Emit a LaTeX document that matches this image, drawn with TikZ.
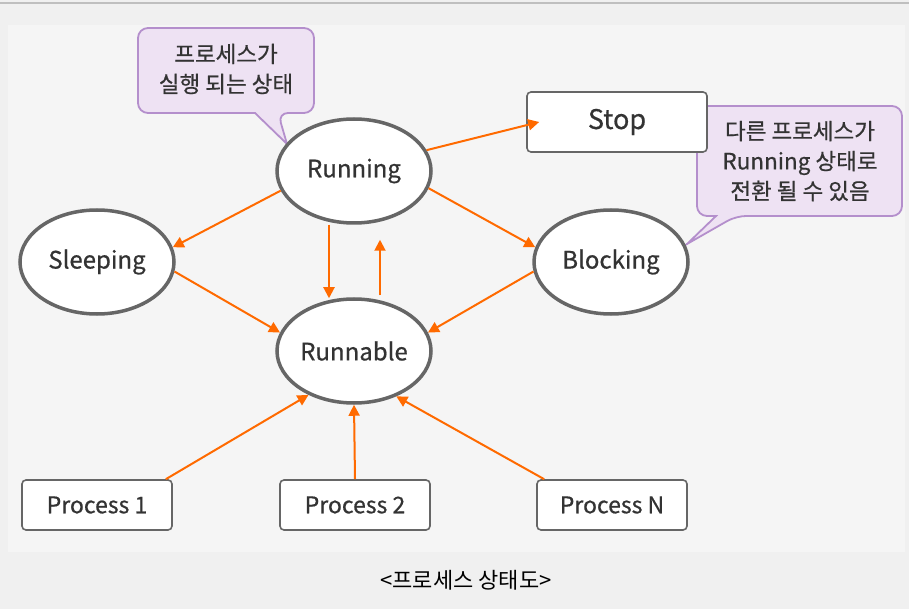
\documentclass[tikz,border=0pt]{standalone}
\usepackage{fontspec}
\setmainfont{Noto Sans CJK KR}[FakeBold=0.6]
\newfontfamily\capfont{Noto Sans CJK KR}
\usetikzlibrary{shapes.geometric,arrows.meta,calc}
\definecolor{arr}{RGB}{255,106,0}
\definecolor{ebd}{RGB}{102,102,102}
\definecolor{txt}{RGB}{51,51,51}
\definecolor{cfill}{RGB}{238,226,243}
\definecolor{cbd}{RGB}{180,143,204}
\tikzset{
  st/.style={ellipse,draw=ebd,line width=3.5pt,fill=white,minimum width=154pt,minimum height=104pt,inner sep=0pt,text=txt,font=\fontsize{24}{26}\selectfont},
  pbox/.style={rectangle,rounded corners=4pt,draw=ebd,line width=1.6pt,fill=white,minimum width=150pt,minimum height=50pt,inner sep=0pt,text=txt,font=\fontsize{23}{26}\selectfont},
  ar/.style={draw=arr,line width=2pt,-{Triangle[length=11pt,width=11pt]}},
  callout/.style={draw=cbd,line width=1.8pt,fill=cfill},
  ctext/.style={text=txt,align=center,font=\fontsize{22.5}{30}\selectfont,inner sep=0pt}
}
\begin{document}
\begin{tikzpicture}[x=1pt,y=-1pt]
\useasboundingbox (0,0) rectangle (909,609);
\fill[black!6] (0,0) rectangle (909,609);
\fill[black!4] (8,25) rectangle (905,552);
\draw[black!25,line width=2pt] (0,3) -- (909,3);
% callout 1
\draw[callout] (255,113) [rounded corners=10pt] -- (138,113) -- (138,28) -- (314,28) -- (314,113) -- (278,113) [sharp corners] -- (287,144) -- cycle;
\node[ctext] (c1) at (226,69) {프로세스가\\실행 되는 상태};
% callout 2
\draw[callout] (716,216) [rounded corners=10pt] -- (697,216) -- (697,106) -- (902,106) -- (902,216) -- (736,216) [sharp corners] -- (687,244) -- cycle;
\node[ctext] (c2) at (800,161) {다른 프로세스가\\Running 상태로\\전환 될 수 있음};
% nodes
\node[st] (run) at (354,171) {Running};
\node[st] (slp) at (97,262) {Sleeping};
\node[st] (blk) at (611,262) {Blocking};
\node[st] (rnb) at (354,351) {Runnable};
\node[pbox,minimum width=180pt,minimum height=60pt,font=\fontsize{27}{30}\selectfont] (stop) at (617,122) {Stop};
\node[pbox] (p1) at (97,505) {Process 1};
\node[pbox] (p2) at (355,505) {Process 2};
\node[pbox] (pn) at (612,505) {Process N};
% arrows
\draw[ar] (run.16) -- ($(stop.west)+(13,0)$);
\draw[ar] (run.195) -- (slp.11);
\draw[ar] (run.347) -- (blk.169);
\draw[ar] ($(run.south)+(-25,0)$) -- ($(rnb.north)+(-25,1)$);
\draw[ar] ($(rnb.north)+(26,-2)$) -- ($(run.south)+(26,15)$);
\draw[ar] (slp.353) -- (rnb.166);
\draw[ar] (blk.187) -- (rnb.14);
\draw[ar] ($(p1.north east)+(-7,0)$) -- (rnb.224);
\draw[ar] (p2.north) -- (rnb.south);
\draw[ar] ($(pn.north west)+(8,0)$) -- (rnb.313);
% caption
\node[text=black,font=\capfont\fontsize{22}{24}\selectfont] (cap) at (466,580) {<프로세스 상태도>};
\end{tikzpicture}
\end{document}
